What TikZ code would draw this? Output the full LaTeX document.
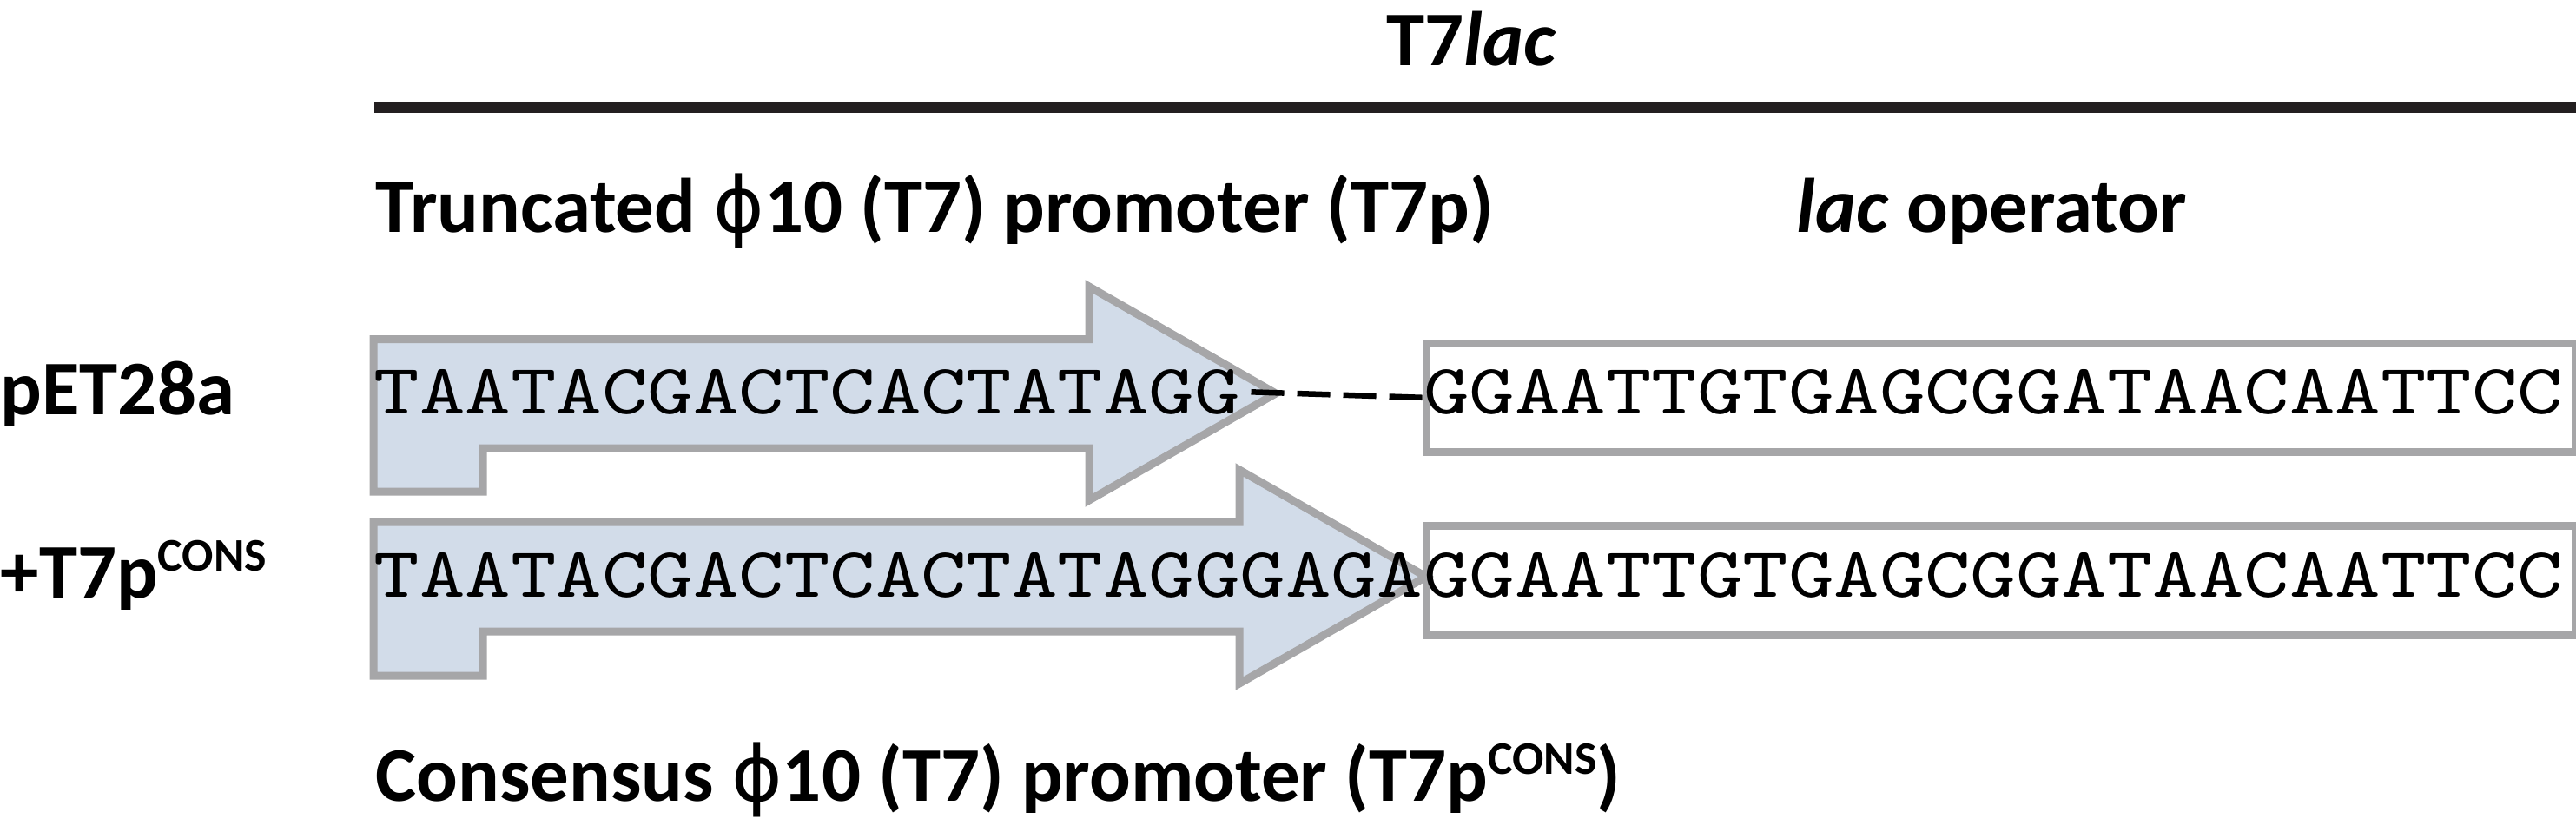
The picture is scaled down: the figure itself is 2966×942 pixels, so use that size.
\documentclass[tikz,border=0pt]{standalone}
\usepackage{fontspec}
\setmainfont{Carlito}
\newfontfamily\phifont{DejaVu Sans}
\newfontfamily\seqfont[Extension=.otf, FakeStretch=1.22]{lmmono10-regular}
\usepackage{tikz}

\definecolor{edgegray}{RGB}{166,166,168}
\definecolor{promfill}{RGB}{210,220,233}
\definecolor{rulecol}{RGB}{35,31,32}

\newcommand{\phisym}{{\phifont\mdseries ϕ}}
\newcommand{\consup}{\raisebox{0.30cm}{\fontsize{15.3}{16}\selectfont CONS}}

\begin{document}
\begin{tikzpicture}[x=0.01cm, y=-0.01cm,
  lbl/.style={font=\fontsize{25.3}{30}\selectfont\bfseries, inner sep=0, anchor=base west},
  seq/.style={font=\fontsize{23.3}{28}\selectfont\seqfont, inner sep=0, anchor=base west},
  promoter/.style={draw=edgegray, fill=promfill, line width=0.09cm},
  opbox/.style={draw=edgegray, line width=0.09cm, anchor=north west, minimum width=13.22cm, minimum height=1.255cm, inner sep=0},
  gap/.style={draw=black, line width=0.065cm, dash pattern=on 0.38cm off 0.15cm},
  bar/.style={draw=rulecol, line width=0.13cm}]
\useasboundingbox (0,0) rectangle (2966,942);

% heading and bar
\node[lbl, anchor=base] (title) at (1694,75) {T7\textit{lac}};
\draw[bar] (431,123.5) -- (2966,123.5);
\node[lbl] (truncated) at (432,267) {Truncated \phisym10 (T7) promoter (T7p)};
\node[lbl] (lacop) at (2068,267) {\textit{lac} operator};

% row labels
\node[lbl] (pet) at (0,477) {pET28a};
\node[lbl] (cons) at (0,688) {+T7p\consup};

% operator boxes
\node[opbox] (opA) at (1638,390.5) {};
\node[opbox] (opB) at (1638,601) {};

% promoter arrows
\draw[promoter] (430,390.5) -- (1254,390.5) -- (1254,330) -- (1469,453) -- (1254,576) -- (1254,516) -- (556,516) -- (556,566) -- (430,566) -- cycle;
\draw[promoter] (430,601) -- (1427,601) -- (1427,541) -- (1642,664) -- (1427,787) -- (1427,727) -- (556,727) -- (556,778) -- (430,778) -- cycle;

% sequences
\node[seq] (seqA) at (430,476) {TAATACGACTCACTATAGG};
\node[seq] (seqB) at (430,687) {TAATACGACTCACTATAGGGAGA};
\node[seq] (opseqB) at (seqB.base east) {GGAATTGTGAGCGGATAACAATTCC};
\node[seq] (opseqA) at (opseqB.base west |- seqA.base) {GGAATTGTGAGCGGATAACAATTCC};
\draw[gap, shorten <=0.12cm] (seqA.east) -- (opA.west);

\node[lbl] (consensus) at (432,922) {Consensus \phisym10 (T7) promoter (T7p\consup)};
\end{tikzpicture}
\end{document}
